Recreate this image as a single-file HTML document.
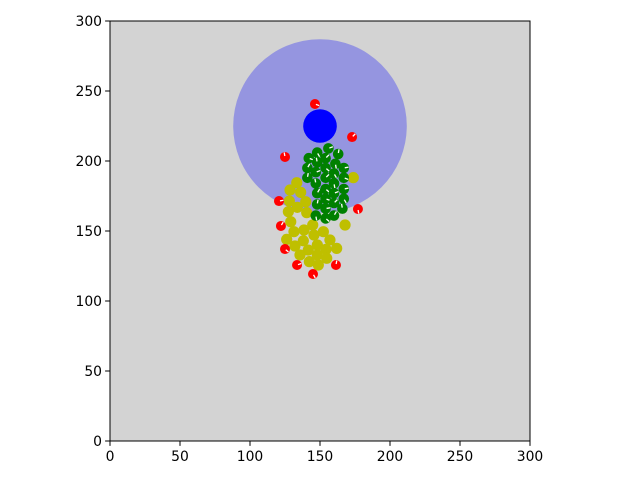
<!DOCTYPE html>
<html><head><meta charset="utf-8"><style>
body{margin:0;background:#fff;}
svg{display:block;font-family:"DejaVu Sans","Liberation Sans",sans-serif;}
</style></head><body>
<svg id="chart" width="640" height="480"></svg>
<script>
const xTicks=[0,50,100,150,200,250,300];
const yTicks=[0,50,100,150,200,250,300];
const bigCircle=[150,225,62];
const blueCircle=[150,225,12];
const redX=[146.4,172.9,125,177.1,120.7,122.1,125,133.6,145,161.4];
const redY=[240.7,217.1,202.9,165.7,171.4,153.6,137.1,125.7,119.3,125.7];
const greenX=[156,148,163,142,154,148,161,167,141,154,147,160,141,167,154,147,160,167,148,154,160,167,148,154,160,166,147,154,160,154];
const greenY=[209,206,205,202,202,199,198,195,195,195,192,191,188,188,188,184,184,180,177,180,177,173,169,173,170,166,161,166,161,159];
const yellowX=[133.4,128.6,136.2,128.1,139.8,133.8,127.4,140.5,129.1,144.8,167.9,131.4,138.6,145.7,152.4,126.2,138.1,157.1,132.1,141.6,148.1,154.3,161.9,135.7,148.1,154.8,142.4,148.8,173.8];
const yellowY=[184.5,179.3,177.6,171.4,170.9,166.9,163.8,163.1,156.6,154.3,154.3,149.5,150.7,147.1,149.5,144,143,143.6,139.3,136.4,140,136.9,137.6,132.9,132.9,130.5,128.1,125.7,188.1];
const angles=[20,-60,80,-20,45,100,-80,10,60,-40];

const L=110,T=21,W=420,H=420;
const sx=v=>L+v/300*W, sy=v=>T+H-v/300*H, sr=v=>v/300*W;
const NS="http://www.w3.org/2000/svg";
const svg=document.getElementById('chart');
function mk(tag,attrs,parent){const e=document.createElementNS(NS,tag);for(const k in attrs)e.setAttribute(k,attrs[k]);(parent||svg).appendChild(e);return e;}

const bg=mk('rect',{x:L,y:T,width:W,height:H,fill:'#d3d3d3'});



const bc=mk('circle',{cx:sx(bigCircle[0]),cy:sy(bigCircle[1]),r:sr(bigCircle[2]),fill:'#9595e0'});



function dot(x,y,r,fill,tick,i,name){
  const g=mk('g',{});
  
  
  mk('circle',{cx:sx(x),cy:sy(y),r:r,fill:fill},g);
  if(tick){const a=angles[i%angles.length]*Math.PI/180;
    mk('line',{x1:sx(x)+Math.cos(a)*1,y1:sy(y)-Math.sin(a)*1,x2:sx(x)+Math.cos(a)*r*0.9,y2:sy(y)-Math.sin(a)*r*0.9,stroke:'#fff','stroke-width':1.3},g);}
}
yellowX.forEach((x,i)=>dot(x,yellowY[i],5.6,'#bfbf00',false,i,'yellow-point'));
greenX.forEach((x,i)=>dot(x,greenY[i],5.3,'#008000',true,i,'green-point'));

const blue=mk('circle',{cx:sx(blueCircle[0]),cy:sy(blueCircle[1]),r:sr(blueCircle[2]),fill:'#0000ff'});



redX.forEach((x,i)=>dot(x,redY[i],5,'#ff0000',true,i+3,'red-point'));

const fr=mk('rect',{x:L,y:T,width:W,height:H,fill:'none',stroke:'#000','stroke-width':1});



xTicks.forEach(v=>{
  const g=mk('g',{});
  
  
  mk('line',{x1:sx(v),x2:sx(v),y1:T+H,y2:T+H+4.9,stroke:'#000'},g);
  const t=mk('text',{x:sx(v),y:T+H+20,'text-anchor':'middle','font-size':13.9,fill:'#000'},g);t.textContent=v;
});
yTicks.forEach(v=>{
  const g=mk('g',{});
  
  
  mk('line',{x1:L-4.9,x2:L,y1:sy(v),y2:sy(v),stroke:'#000'},g);
  const t=mk('text',{x:L-8,y:sy(v)+5,'text-anchor':'end','font-size':13.9,fill:'#000'},g);t.textContent=v;
});
</script>
</body></html>
